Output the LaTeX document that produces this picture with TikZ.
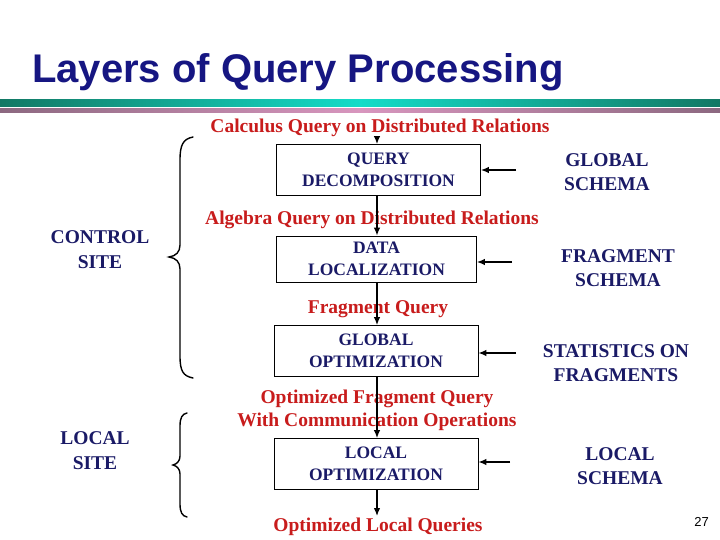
\documentclass[tikz,border=0pt]{standalone}
\usepackage{fontspec}
\setmainfont{Liberation Serif}
\newfontfamily\titlefont{Liberation Sans}
\usetikzlibrary{arrows.meta}
\definecolor{navy}{RGB}{26,26,102}
\definecolor{qred}{RGB}{200,28,28}
\definecolor{titleblue}{RGB}{22,22,130}
\definecolor{tealdark}{RGB}{18,120,100}
\definecolor{teallight}{RGB}{20,220,200}
\definecolor{mauvedark}{RGB}{140,104,128}
\definecolor{mauvelight}{RGB}{216,150,190}
\begin{document}
\begin{tikzpicture}[x=1pt,y=-1pt,
  box/.style={draw, line width=0.8pt, minimum width=204pt, minimum height=51pt, align=center, text=navy, inner sep=0pt, font=\bfseries\fontsize{17.5}{22}\selectfont},
  lbl/.style={text=qred, align=center, inner sep=0pt, font=\bfseries\fontsize{19.5}{23}\selectfont},
  side/.style={text=navy, align=center, inner sep=0pt, font=\bfseries\fontsize{19.5}{24.5}\selectfont},
  arr/.style={line width=1.3pt, -{Latex[length=8pt,width=6.5pt]}},
  brace/.style={line width=1.4pt, line cap=round}]
\useasboundingbox (0,0) rectangle (720,540);
\fill[white] (0,0) rectangle (720,540);
% title
\node[anchor=base west, inner sep=0pt, text=titleblue, font=\titlefont\bfseries\fontsize{40}{44}\selectfont] (title) at (32,83) {Layers of Query Processing};
\shade[left color=tealdark, right color=tealdark, middle color=teallight] (0,100) rectangle (720,106.5);
\shade[left color=mauvedark, right color=mauvedark, middle color=mauvelight] (0,109) rectangle (720,113);
% boxes
\node[box] (qd) at (378.5,170) {QUERY\\DECOMPOSITION};
\node[box, minimum width=200pt, minimum height=46pt] (dl) at (376.5,259) {DATA\\LOCALIZATION};
\node[box] (go) at (376,351) {GLOBAL\\OPTIMIZATION};
\node[box] (lo) at (376,464) {LOCAL\\OPTIMIZATION};
% red labels
\node[lbl] (l1) at (380,127.5) {Calculus Query on Distributed Relations};
\node[lbl] (l2) at (372,219.5) {Algebra Query on Distributed Relations};
\node[lbl] (l3) at (378,309.5) {Fragment Query};
\node[lbl] (l4) at (377,410.5) {Optimized Fragment Query\\With Communication Operations};
\node[lbl] (l5) at (378,527) {Optimized Local Queries};
% side labels
\node[side] (gs) at (607,172) {GLOBAL\\SCHEMA};
\node[side] (fs) at (618,268) {FRAGMENT\\SCHEMA};
\node[side] (st) at (616,363) {STATISTICS ON\\FRAGMENTS};
\node[side] (ls) at (620,466) {LOCAL\\SCHEMA};
\node[side] (cs) at (100,249.5) {CONTROL\\SITE};
\node[side] (lsite) at (95,450.5) {LOCAL\\SITE};
% vertical arrows
\coordinate (s0) at (377,137);
\coordinate (e5) at (377,516);
\draw[arr] (s0) -- (s0 |- qd.north);
\draw[arr] (qd.south -| s0) -- (dl.north -| s0);
\draw[arr] (dl.south -| s0) -- (go.north -| s0);
\draw[arr] (go.south -| s0) -- (lo.north -| s0);
\draw[arr] (lo.south -| s0) -- (e5);
% side arrows
\coordinate (r1) at (516,170);
\coordinate (r2) at (512,262);
\coordinate (r3) at (516,353);
\coordinate (r4) at (510,462);
\draw[arr] (r1) -- (r1 -| qd.east);
\draw[arr] (r2) -- (r2 -| dl.east);
\draw[arr] (r3) -- (r3 -| go.east);
\draw[arr] (r4) -- (r4 -| lo.east);
% braces
\draw[brace] (193,137) .. controls (183,139) and (180,145) .. (180,160)
  -- (180,245) .. controls (180,252) and (176,256) .. (169,257)
  .. controls (176,258) and (180,262) .. (180,269)
  -- (180,356) .. controls (180,371) and (183,376) .. (193,378);
\draw[brace] (187,413) .. controls (182,414) and (180,418) .. (180,426)
  -- (180,456) .. controls (180,461) and (177,464) .. (173,465)
  .. controls (177,466) and (180,469) .. (180,474)
  -- (180,504) .. controls (180,512) and (182,516) .. (187,517);
% page number
\node[anchor=base east, inner sep=0pt, font=\titlefont\fontsize{13}{15}\selectfont] (pg) at (709,526) {27};
\end{tikzpicture}
\end{document}
